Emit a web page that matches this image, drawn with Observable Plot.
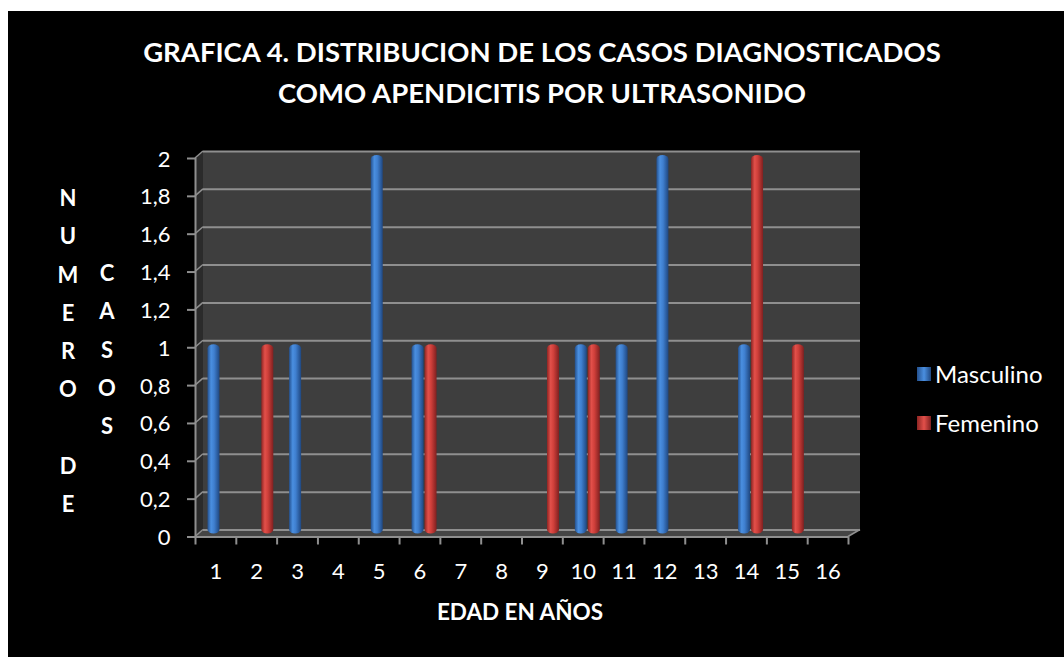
<!DOCTYPE html>
<html>
<head>
<meta charset="utf-8">
<script src="https://cdn.jsdelivr.net/npm/d3@7"></script>
<script src="https://cdn.jsdelivr.net/npm/@observablehq/plot@0.6"></script>
<style>
  body { margin: 0; background: #fff; font-family: Lato, "Open Sans", sans-serif; }
  #chart { position: absolute; left: 8px; top: 11px; width: 1056px; height: 646px; background: #000; overflow: hidden; }
  #chart svg { position: absolute; left: 0; top: 0; }
  .title { position: absolute; left: 6px; top: 20px; width: 1056px; text-align: center; color: #fff;
           font-weight: 700; font-size: 27.5px; line-height: 41px; }
  .ycol { position: absolute; color: #fff; font-weight: 700; font-size: 22px; line-height: 38.3px;
          width: 30px; text-align: center; }
  .xtitle { position: absolute; left: 412px; width: 200px; top: 588px; text-align: center; color: #fff;
            font-weight: 700; font-size: 22.5px; line-height: 26px; }
  .legend { position: absolute; left: 909px; top: 338px; color: #fff; font-size: 24px; }
  .legend .item { display: flex; align-items: center; height: 49px; }
  .legend .sw { width: 14px; height: 14px; margin-right: 4px; }
</style>
</head>
<body>
<div id="chart"></div>
<script>
// ---- data ----
const ages = [1, 2, 3, 4, 5, 6, 7, 8, 9, 10, 11, 12, 13, 14, 15, 16];
const masculino = [1, 0, 1, 0, 2, 1, 0, 0, 0, 1, 1, 2, 0, 1, 0, 0];
const femenino  = [0, 1, 0, 0, 0, 1, 0, 0, 1, 1, 0, 0, 0, 2, 1, 0];
const seriesNames = ["Masculino", "Femenino"];
const yTicks = [0, 0.2, 0.4, 0.6, 0.8, 1, 1.2, 1.4, 1.6, 1.8, 2];
const yTickLabels = ["0", "0,2", "0,4", "0,6", "0,8", "1", "1,2", "1,4", "1,6", "1,8", "2"];
const titleLines = ["GRAFICA 4. DISTRIBUCION DE LOS CASOS DIAGNOSTICADOS", "COMO APENDICITIS POR ULTRASONIDO"];
const yTitleCol1 = ["N", "U", "M", "E", "R", "O", "", "D", "E"];
const yTitleCol2 = ["C", "A", "S", "O", "S"];
const xTitle = "EDAD EN AÑOS";

// ---- style ----
const seriesFill = {Masculino: "url(#gBlue)", Femenino: "url(#gRed)"};
const D = 8, DY = 7;           // 3D depth offset (front -> back)
const bandPx = 653 / 16;

const rows = [];
ages.forEach((a, i) => {
  if (masculino[i] > 0) rows.push({age: a, value: masculino[i], series: "Masculino"});
  if (femenino[i] > 0) rows.push({age: a, value: femenino[i], series: "Femenino"});
});

function deco(index, {x, y}) {
  const g = d3.create("svg:g");
  const fx0 = x(0.5), fx1 = x(16.5);
  const by0 = y(0), by2 = y(2);
  g.append("polygon")
    .attr("points", [[fx0, by2 + DY], [fx0 + D, by2], [fx0 + D, by0], [fx0, by0 + DY]].join(" "))
    .attr("fill", "#2b2b2b");
  g.append("polygon")
    .attr("points", [[fx0, by0 + DY], [fx0 + D, by0], [fx1 + D + 4, by0], [fx1, by0 + DY]].join(" "))
    .attr("fill", "#454545");
  for (const t of yTicks) {
    g.append("line")
      .attr("x1", fx0).attr("y1", y(t) + DY).attr("x2", fx0 + D).attr("y2", y(t))
      .attr("stroke", "#8f8f8f").attr("stroke-width", 1.5);
  }
  g.append("line")
    .attr("x1", fx1).attr("y1", by0 + DY).attr("x2", fx1 + D + 4).attr("y2", by0)
    .attr("stroke", "#8f8f8f").attr("stroke-width", 1.5);
  return g.node();
}

const chart = Plot.plot({
  width: 1056,
  height: 646,
  marginLeft: 187,
  marginRight: 216,
  marginTop: 140,
  marginBottom: 127.5,
  style: {background: "#000", fontFamily: "Lato, 'Open Sans', sans-serif", overflow: "visible"},
  x: {domain: [0.5, 16.5], axis: null, label: null},
  y: {domain: [0, 2], axis: null, label: null},
  marks: [
    Plot.rect([0], {x1: 0.5, x2: 16.5, y1: 0, y2: 2, dx: D, insetRight: -4, fill: "#3e3e3e"}),
    deco,
    Plot.ruleY(yTicks, {x1: 0.5, x2: 16.5, dx: D, insetRight: -4, stroke: "#8f8f8f", strokeWidth: 2}),
    Plot.ruleY([0], {dy: DY, stroke: "#8f8f8f", strokeWidth: 2}),
    Plot.ruleX([0.5], {y1: 0, y2: 2, dy: DY, stroke: "#8f8f8f", strokeWidth: 2}),
    Plot.rectY(rows.filter(d => d.series === "Masculino"), {
      x1: d => d.age - 0.5, x2: d => d.age + 0.5, y1: 0, y2: "value",
      insetLeft: 12.5, insetRight: bandPx - 24.5, dy: 4, rx: 6, ry: 4,
      fill: d => seriesFill[d.series]
    }),
    Plot.rectY(rows.filter(d => d.series === "Femenino"), {
      x1: d => d.age - 0.5, x2: d => d.age + 0.5, y1: 0, y2: "value",
      insetLeft: 25.5, insetRight: bandPx - 37.5, dy: 4, rx: 6, ry: 4,
      fill: d => seriesFill[d.series]
    }),
    Plot.axisY(yTicks, {text: null, label: null, tickSize: 8, dy: DY, stroke: "#8f8f8f", strokeWidth: 2}),
    Plot.axisY(yTicks, {label: null, tickSize: 0, tickPadding: 25, dy: DY + 1, fill: "#fff", fontSize: 22,
      tickFormat: d => yTickLabels[yTicks.indexOf(d)]}),
    Plot.axisX(ages.map(a => a - 0.5).concat([16.5]), {text: null, label: null, tickSize: 8, dy: DY, stroke: "#8f8f8f", strokeWidth: 2}),
    Plot.axisX(ages, {label: null, tickSize: 0, tickPadding: 26, dy: DY, fill: "#fff", fontSize: 22, tickFormat: d => String(d)})
  ]
});

const root = document.getElementById("chart");
root.appendChild(chart);

const svg = d3.select(chart);
const defs = svg.insert("defs", ":first-child");
function grad(id, stops) {
  const lg = defs.append("linearGradient").attr("id", id).attr("x1", 0).attr("x2", 1).attr("y1", 0).attr("y2", 0);
  stops.forEach(([o, c]) => lg.append("stop").attr("offset", o).attr("stop-color", c));
}
grad("gBlue", [[0, "#24518f"], [0.3, "#4a8fe0"], [0.55, "#3f7fcf"], [1, "#1f4780"]]);
grad("gRed", [[0, "#8e2523"], [0.3, "#e2504a"], [0.55, "#cf3f3a"], [1, "#7f2020"]]);

// title
const t = document.createElement("div");
t.className = "title";
t.innerHTML = titleLines.join("<br>");
root.appendChild(t);

// y title columns
function col(letters, left, top) {
  const c = document.createElement("div");
  c.className = "ycol";
  c.style.left = left + "px";
  c.style.top = top + "px";
  c.innerHTML = letters.map(l => l || "&nbsp;").join("<br>");
  root.appendChild(c);
}
col(yTitleCol1, 45, 187 - 19);
col(yTitleCol2, 84, 262 - 19);

// x title
const xt = document.createElement("div");
xt.className = "xtitle";
xt.textContent = xTitle;
root.appendChild(xt);

// legend
const lg = document.createElement("div");
lg.className = "legend";
const swatchBg = {Masculino: "linear-gradient(to right,#24518f,#4a8fe0,#1f4780)", Femenino: "linear-gradient(to right,#8e2523,#e2504a,#7f2020)"};
seriesNames.forEach(n => {
  const it = document.createElement("div");
  it.className = "item";
  it.innerHTML = `<div class="sw" style="background:${swatchBg[n]}"></div><span>${n}</span>`;
  lg.appendChild(it);
});
root.appendChild(lg);
</script>
</body>
</html>
